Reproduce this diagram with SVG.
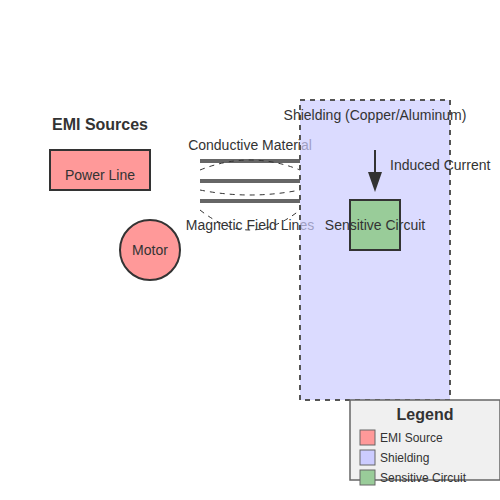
<svg xmlns="http://www.w3.org/2000/svg" width="500" height="500" viewBox="0 0 500 500">
<defs>
<style>
text{font-family:"Liberation Sans",Arial,sans-serif;fill:#333;}
.t14{font-size:14px;text-anchor:middle;}
.h{font-size:16px;font-weight:bold;text-anchor:middle;}
.lg{font-size:12px;}
.src{fill:#f99;stroke:#333;stroke-width:2;}
.cond{stroke:#666;stroke-width:4;}
.field{fill:none;stroke:#333;stroke-width:1;stroke-dasharray:5,5;}
.sw{stroke:#666;stroke-width:1;}
</style>
<marker id="arrow" markerWidth="10" markerHeight="7" refX="0" refY="3.5" orient="auto">
<polygon points="0 0, 10 3.5, 0 7" fill="#333"/>
</marker>
</defs>
<rect width="500" height="500" fill="#fff"/>
<g id="emi-sources">
<text class="h" x="100" y="130">EMI Sources</text>
<g id="power-line">
<rect class="src" x="50" y="150" width="100" height="40"/>
<text class="t14" x="100" y="180">Power Line</text>
</g>
<g id="motor">
<circle class="src" cx="150" cy="250" r="30"/>
<text class="t14" x="150" y="255">Motor</text>
</g>
</g>
<g id="conductive-material">
<line class="cond" x1="200" y1="161" x2="300" y2="161"/>
<line class="cond" x1="200" y1="181" x2="300" y2="181"/>
<line class="cond" x1="200" y1="201" x2="300" y2="201"/>
<text class="t14" x="250" y="150">Conductive Material</text>
</g>
<g id="magnetic-field">
<path class="field" d="M200,170 Q250,150 300,170"/>
<path class="field" d="M200,190 Q250,200 300,190"/>
<path class="field" d="M200,210 Q250,250 300,210"/>
<text class="t14" x="250" y="230">Magnetic Field Lines</text>
</g>
<g id="shielding">
<rect x="300" y="100" width="150" height="300" fill="#ccf" fill-opacity="0.7" stroke="#555" stroke-width="2" stroke-dasharray="5,5"/>
<text class="t14" x="375" y="120">Shielding (Copper/Aluminum)</text>
</g>
<g id="connectors">
<line x1="375" y1="150" x2="375" y2="172" stroke="#333" stroke-width="2" marker-end="url(#arrow)"/>
<text x="390" y="170" font-size="14">Induced Current</text>
</g>
<g id="sensitive-circuit">
<rect x="350" y="200" width="50" height="50" fill="#9c9" stroke="#333" stroke-width="2"/>
<text class="t14" x="375" y="230">Sensitive Circuit</text>
</g>
<g id="legend">
<rect x="350" y="400" width="150" height="80" fill="#f0f0f0" stroke="#666" stroke-width="1.5"/>
<text class="h" x="425" y="420">Legend</text>
<rect class="sw" x="360" y="430" width="15" height="15" fill="#f99"/>
<text class="lg" x="380" y="442">EMI Source</text>
<rect class="sw" x="360" y="450" width="15" height="15" fill="#ccf"/>
<text class="lg" x="380" y="462">Shielding</text>
<rect class="sw" x="360" y="470" width="15" height="15" fill="#9c9"/>
<text class="lg" x="380" y="482">Sensitive Circuit</text>
</g>
</svg>
